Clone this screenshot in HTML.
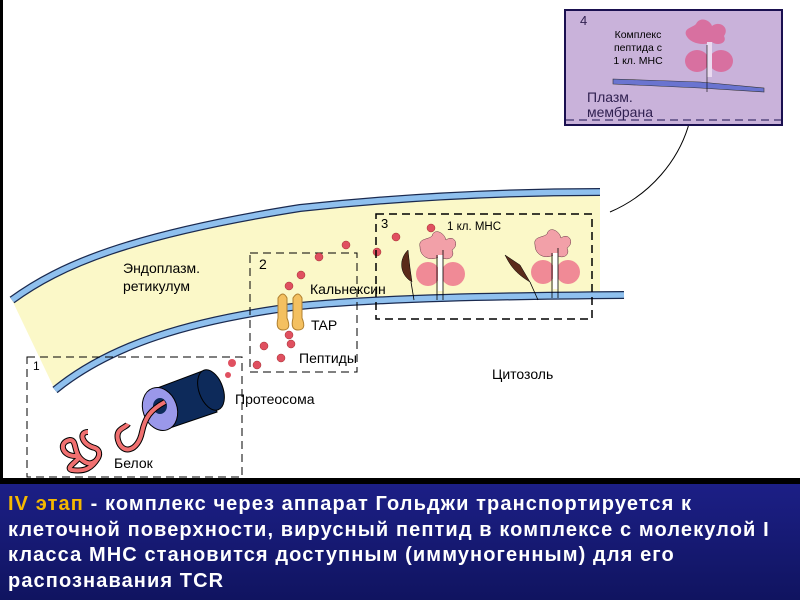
<!DOCTYPE html>
<html><head><meta charset="utf-8"><style>
html,body{margin:0;padding:0;background:#fff}
#w{position:relative;width:800px;height:600px;overflow:hidden;background:#fff}
svg text{font-family:"Liberation Sans","DejaVu Sans",sans-serif}
#b{position:absolute;left:0;top:484px;width:800px;height:116px;background:linear-gradient(#1c1f86,#101460);color:#fff;font:bold 20px "Liberation Sans","DejaVu Sans",sans-serif;letter-spacing:1.1px;line-height:25.5px;padding:8px 0 0 8px;box-sizing:border-box;white-space:nowrap}
#b span{color:#f5b800}
</style></head><body><div id="w">
<svg width="800" height="484" viewBox="0 0 800 484" xmlns="http://www.w3.org/2000/svg">
<rect x="0" y="0" width="800" height="484" fill="#fff"/>
<rect x="0" y="0" width="3" height="484" fill="#000"/>
<rect x="0" y="478" width="800" height="6" fill="#000"/>
<path d="M12,300 C60,265 130,235 300,208 C420,195 520,192 600,192 L600,296 C500,297 380,298 300,306 C190,320 110,345 55,390 Z" fill="#fbf8c8"/>
<path d="M12,300 C60,265 130,235 300,208 C420,195 520,192 600,192" fill="none" stroke="#1a2a50" stroke-width="8"/>
<path d="M12,300 C60,265 130,235 300,208 C420,195 520,192 600,192" fill="none" stroke="#8fc0ee" stroke-width="5.5"/>
<path d="M55,390 C110,345 190,320 300,306 C380,298 500,296 624,295" fill="none" stroke="#1a2a50" stroke-width="8"/>
<path d="M55,390 C110,345 190,320 300,306 C380,298 500,296 624,295" fill="none" stroke="#8fc0ee" stroke-width="5.5"/>
<text x="123" y="273" font-size="14">Эндоплазм.</text>
<text x="123" y="291" font-size="14">ретикулум</text>
<rect x="27" y="357" width="215" height="120" fill="none" stroke="#000" stroke-dasharray="8,5"/>
<text x="33" y="370" font-size="12">1</text>
<g>
<path d="M152,390 L205,370 L217,412 L164,430 Z" fill="#0d2a5a" stroke="#000"/>
<ellipse cx="211" cy="390" rx="12" ry="21" transform="rotate(-20 211 390)" fill="#0d2a5a" stroke="#000"/>
<ellipse cx="160" cy="409" rx="17" ry="22" transform="rotate(-20 160 409)" fill="#9a98ea" stroke="#000"/>
<ellipse cx="160" cy="406" rx="7" ry="8" fill="#0d2a5a"/>
<path d="M165,402 C150,410 145,418 142,432 C138,452 122,455 118,440 C115,428 126,428 128,424" fill="none" stroke="#000" stroke-width="6"/>
<path d="M165,402 C150,410 145,418 142,432 C138,452 122,455 118,440 C115,428 126,428 128,424" fill="none" stroke="#f07070" stroke-width="4"/>
<path d="M88,432 C78,432 82,445 95,448 C105,452 95,468 85,462 C72,455 78,440 70,440 C58,442 62,456 75,456 C88,456 62,468 72,470 C85,472 92,468 98,458" fill="none" stroke="#000" stroke-width="6"/>
<path d="M88,432 C78,432 82,445 95,448 C105,452 95,468 85,462 C72,455 78,440 70,440 C58,442 62,456 75,456 C88,456 62,468 72,470 C85,472 92,468 98,458" fill="none" stroke="#f07070" stroke-width="4"/>
<circle cx="232" cy="363" r="4" fill="#e05060"/><circle cx="228" cy="375" r="3" fill="#e05060"/>
</g>
<text x="114" y="468" font-size="14">Белок</text>
<text x="235" y="404" font-size="14">Протеосома</text>
<rect x="250" y="253" width="107" height="119" fill="none" stroke="#000" stroke-dasharray="8,5"/>
<text x="259" y="269" font-size="14">2</text>
<path d="M278,298 Q283,290 287,298 L287,318 Q292,330 283,330 Q275,330 278,318 Z" fill="#f4c060" stroke="#b08030"/>
<path d="M293,298 Q298,290 302,298 L302,318 Q307,330 298,330 Q290,330 293,318 Z" fill="#f4c060" stroke="#b08030"/>
<text x="311" y="330" font-size="14">TAP</text>
<text x="310" y="294" font-size="14">Кальнексин</text>
<text x="299" y="363" font-size="14">Пептиды</text>
<g fill="#e05060" stroke="#a03030" stroke-width="0.5">
<circle cx="346" cy="245" r="4"/><circle cx="319" cy="257" r="4"/><circle cx="301" cy="275" r="4"/><circle cx="289" cy="286" r="4"/><circle cx="377" cy="252" r="4"/><circle cx="396" cy="237" r="4"/>
<circle cx="289" cy="335" r="4"/><circle cx="291" cy="344" r="4"/><circle cx="264" cy="346" r="4"/><circle cx="281" cy="358" r="4"/><circle cx="257" cy="365" r="4"/><circle cx="431" cy="228" r="4"/>
</g>
<rect x="376" y="214" width="216" height="105" fill="none" stroke="#000" stroke-width="1.5" stroke-dasharray="8,5"/>
<text x="381" y="228" font-size="13">3</text>
<text x="447" y="230" font-size="11.5">1 кл. МНС</text>
<g id="mhc">
<path d="M420,247 C418,238 428,240 432,236 C434,228 444,232 446,240 C454,234 460,245 452,250 C456,258 446,262 440,256 C432,262 420,258 420,247 Z" fill="#f2a0a8" stroke="#603040" stroke-width="0.5"/>
<ellipse cx="428" cy="274" rx="12" ry="12" fill="#f08a96"/>
<ellipse cx="453" cy="274" rx="12" ry="12" fill="#f08a96"/>
<rect x="438" y="255" width="5" height="36" fill="#fff"/>
<path d="M437,255 L437,300 M443,250 L443,300" stroke="#000" stroke-width="0.8"/>
</g>
<use href="#mhc" transform="translate(115,-2)"/>
<path d="M408,250 C398,260 400,275 412,282 L410,268 Z" fill="#5a2a1a" stroke="#000" stroke-width="0.5"/>
<path d="M505,255 C510,265 515,273 530,282 L520,265 Z" fill="#5a2a1a" stroke="#000" stroke-width="0.5"/>
<path d="M411,282 L414,300 M530,282 L538,300" stroke="#000" stroke-width="0.8" fill="none"/>
<text x="492" y="379" font-size="14">Цитозоль</text>
<path d="M610,212 C650,195 680,160 690,120" fill="none" stroke="#000" stroke-width="1"/>
<path d="M690,112 L686,122 L694,122 Z" fill="#000"/>
<rect x="565" y="10" width="217" height="115" fill="#c9b2da" stroke="#1a1050" stroke-width="2"/>
<line x1="566" y1="120" x2="781" y2="120" stroke="#1a1050" stroke-dasharray="8,5"/>
<text x="580" y="25" font-size="13" fill="#302050">4</text>
<text x="638" y="38" font-size="10.5" text-anchor="middle">Комплекс</text>
<text x="638" y="51" font-size="10.5" text-anchor="middle">пептида с</text>
<text x="638" y="64" font-size="10.5" text-anchor="middle">1 кл. МНС</text>
<path d="M686,35 C684,28 692,28 696,24 C700,16 710,20 712,26 C720,20 730,28 724,36 C728,44 716,46 712,42 C704,46 690,44 686,35 Z" fill="#d870a0"/>
<ellipse cx="697" cy="61" rx="12" ry="11" fill="#d870a0"/>
<ellipse cx="721" cy="61" rx="12" ry="11" fill="#d870a0"/>
<rect x="707" y="42" width="5" height="35" fill="#eadaf0"/>
<path d="M613,79 L700,82 L764,88 L764,92 L700,88 L613,84 Z" fill="#6a74d0" stroke="#333" stroke-width="0.6"/>
<line x1="707" y1="45" x2="707" y2="92" stroke="#000" stroke-width="0.6"/>
<text x="587" y="102" font-size="14" fill="#302050">Плазм.</text>
<text x="587" y="117" font-size="14" fill="#302050">мембрана</text>
</svg>
<div id="b"><span>IV этап</span> - комплекс через аппарат Гольджи транспортируется к<br>клеточной поверхности, вирусный пептид в комплексе с молекулой I<br>класса МНС становится доступным (иммуногенным) для его<br>распознавания TCR</div>
</div></body></html>
